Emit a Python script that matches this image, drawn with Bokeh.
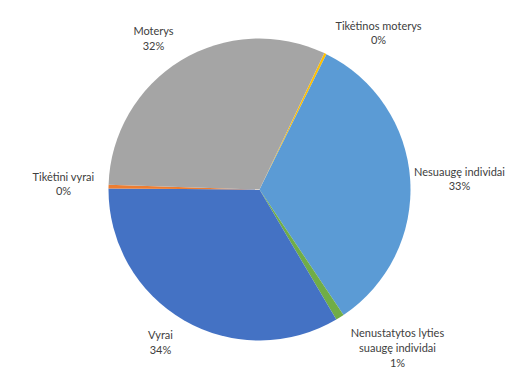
import math
from bokeh.plotting import figure
from bokeh.models import ColumnDataSource
from bokeh.core.properties import value
from bokeh.embed import file_html
from bokeh.resources import INLINE

# ---- data (clockwise from the first slice) ----
categories = ["Tikėtinos moterys", "Nesuaugę individai",
              "Nenustatytos lyties suaugę individai", "Vyrai",
              "Tikėtini vyrai", "Moterys"]
shares = [0.25, 33.3, 0.9, 33.6, 0.4, 31.55]
label_lines = [["Tikėtinos moterys"], ["Nesuaugę individai"],
               ["Nenustatytos lyties", "suaugę individai"], ["Vyrai"],
               ["Tikėtini vyrai"], ["Moterys"]]

# ---- styling / layout (positions in pixels from top-left) ----
colors = ["#FFC000", "#5B9BD5", "#70AD47", "#4472C4", "#ED7D31", "#A5A5A5"]
W, H = 508, 371
cx, cy, r = 259, H - 189, 151
first_angle = 25.4  # degrees clockwise from 12 o'clock
label_pos = [(378, 32), (459, 178), (397, 347), (160, 341.5), (63, 183), (153, 37.5)]
line_h = 14.7

total = sum(shares)
starts, ends = [], []
acc = first_angle
for v in shares:
    t1 = acc
    t2 = acc + v / total * 360.0
    acc = t2
    starts.append(math.radians(90 - t2))
    ends.append(math.radians(90 - t1))

src = ColumnDataSource(dict(start=starts, end=ends, color=colors, name=categories))

p = figure(width=W, height=H, x_range=(0, W), y_range=(0, H),
           output_backend="svg", toolbar_location=None, min_border=0)
p.axis.visible = False
p.grid.visible = False
p.outline_line_color = None
p.background_fill_color = "white"

p.wedge(x=cx, y=cy, radius=r, radius_units="screen", start_angle="start", end_angle="end",
        direction="anticlock", fill_color="color", line_color=None, source=src)

tx, ty, tt = [], [], []
for lines, v, (lx, ly) in zip(label_lines, shares, label_pos):
    all_lines = lines + [f"{round(v / total * 100)}%"]
    n = len(all_lines)
    for i, s in enumerate(all_lines):
        yy = ly - (n - 1) / 2 * line_h + i * line_h
        tx.append(lx)
        ty.append(H - yy)
        tt.append(s)

p.text(x=tx, y=ty, text=tt, text_align="center", text_baseline="middle",
       text_font=value("Lato"), text_font_size="11px", text_color="#404040")

open("out.html", "w").write(file_html(p, INLINE))
